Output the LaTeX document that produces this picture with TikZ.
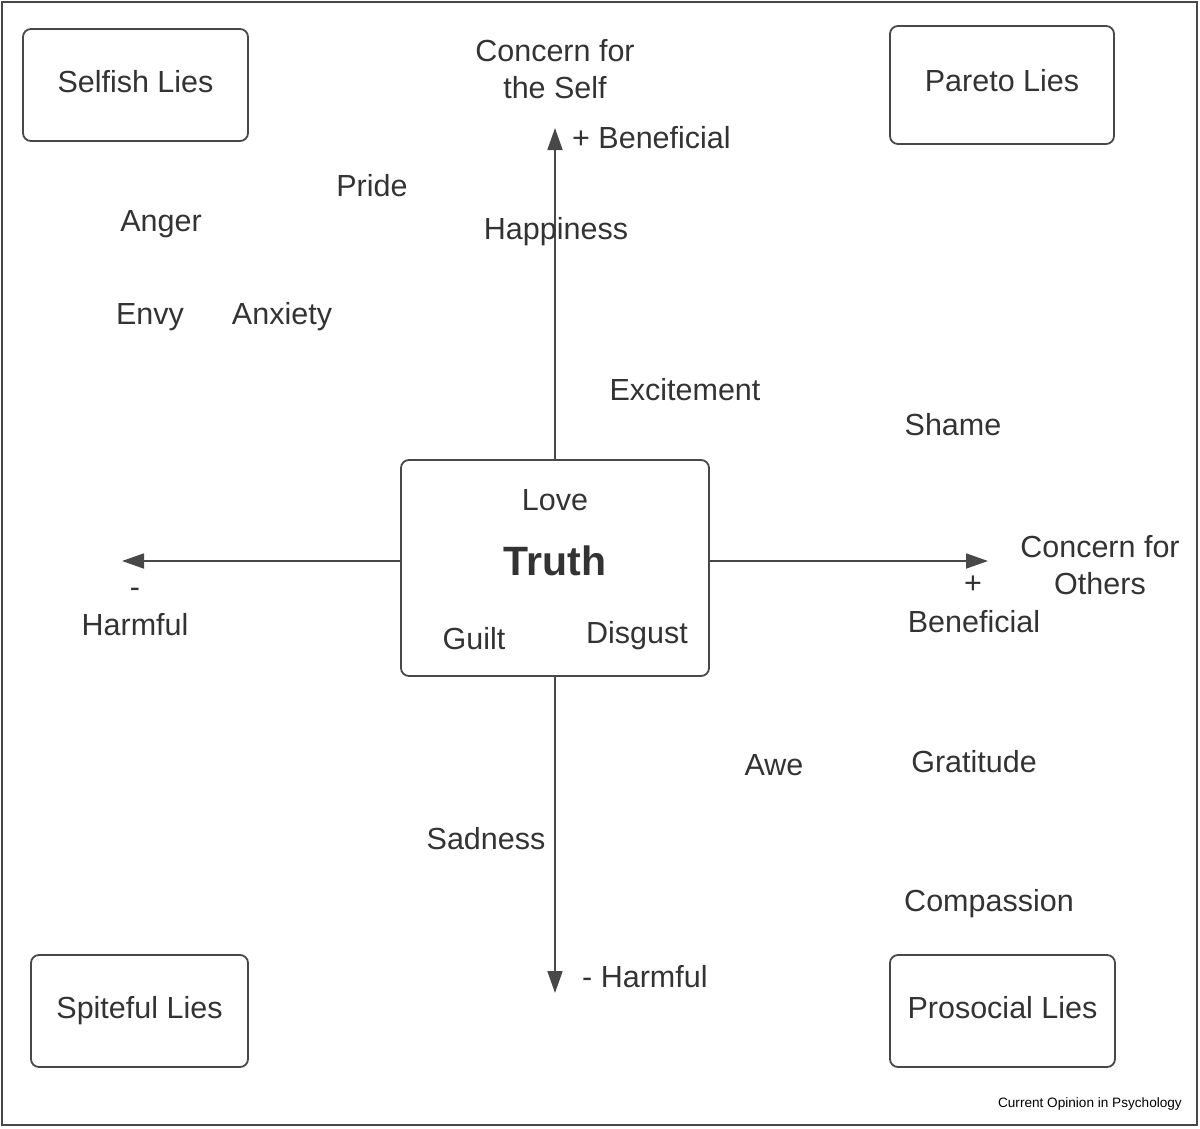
\documentclass[tikz,border=0pt]{standalone}
\usepackage{fontspec}
\setmainfont{Liberation Sans}
\usetikzlibrary{arrows.meta}
\definecolor{ink}{HTML}{333333}
\definecolor{edge}{HTML}{484848}
\begin{document}
\begin{tikzpicture}[x=1pt,y=-1pt,
  lbl/.style={text=ink,font=\fontsize{30.5}{37}\selectfont,inner sep=0pt,align=center},
  bl/.style={lbl,anchor=base},
  liebox/.style={draw=edge,line width=1.8pt,rounded corners=8pt,text=ink,
    font=\fontsize{30.5}{37}\selectfont,inner sep=0pt},
  axisline/.style={draw=edge,line width=1.8pt,-{Triangle[length=22pt,width=15pt]}}]
\useasboundingbox (0,0) rectangle (1200,1128);
\draw[edge,line width=1.6pt] (2,2) rectangle (1197,1125);

% quadrant boxes
\node[liebox,minimum width=225pt,minimum height=112pt] (selfish) at (135.5,85) {};
\node[bl] (selfishT) at (135.5,92) {Selfish Lies};
\node[liebox,minimum width=224pt,minimum height=118pt] (pareto) at (1002,85) {};
\node[bl] (paretoT) at (1002,91) {Pareto Lies};
\node[liebox,minimum width=217pt,minimum height=112pt] (spiteful) at (139.5,1011) {};
\node[bl] (spitefulT) at (139.5,1018) {Spiteful Lies};
\node[liebox,minimum width=225pt,minimum height=112pt] (prosocial) at (1002.5,1011) {};
\node[bl] (prosocialT) at (1002.5,1018) {Prosocial Lies};

% central box
\node[liebox,minimum width=308pt,minimum height=216pt] (truth) at (555,568) {};
\node[bl,font=\fontsize{41}{48}\selectfont\bfseries] (truthT) at (555,575) {Truth};
\node[bl] (love) at (555,510) {Love};
\node[bl] (guilt) at (474,649) {Guilt};
\node[bl] (disgust) at (637,643) {Disgust};

% axes
\coordinate (uptip) at (555,128);
\coordinate (downtip) at (555,993);
\coordinate (lefttip) at (122,561);
\coordinate (righttip) at (988,561);
\draw[axisline] (truth.north) -- (uptip);
\draw[axisline] (truth.south) -- (downtip);
\draw[axisline] (lefttip -| truth.west) -- (lefttip);
\draw[axisline] (righttip -| truth.east) -- (righttip);

% axis labels
\node[lbl] (selfconcern) at (555,69) {Concern for\\the Self};
\node[bl,anchor=base west] (upben) at (572,148) {+ Beneficial};
\node[bl,anchor=base west] (downharm) at (582,987) {- Harmful};
\node[lbl] (othersconcern) at (1100,565) {Concern for\\Others};
\node[bl] (plus) at (973,593) {+};
\node[bl] (rightben) at (974,632) {Beneficial};
\node[bl] (minus) at (135,597) {-};
\node[bl] (leftharm) at (135,635) {Harmful};

% emotions
\node[bl] (pride) at (372,196) {Pride};
\node[bl] (anger) at (161,231) {Anger};
\node[bl] (happiness) at (556,239) {Happiness};
\node[bl] (envy) at (150,324) {Envy};
\node[bl] (anxiety) at (282,324) {Anxiety};
\node[bl] (excitement) at (685,400) {Excitement};
\node[bl] (shame) at (953,435) {Shame};
\node[bl] (awe) at (774,775) {Awe};
\node[bl] (gratitude) at (974,772) {Gratitude};
\node[bl] (sadness) at (486,849) {Sadness};
\node[bl] (compassion) at (989,911) {Compassion};

% credit
\node[text=black,font=\fontsize{13.6}{16}\selectfont,inner sep=0pt,anchor=base east] (credit) at (1182,1107) {Current Opinion in Psychology};
\end{tikzpicture}
\end{document}
